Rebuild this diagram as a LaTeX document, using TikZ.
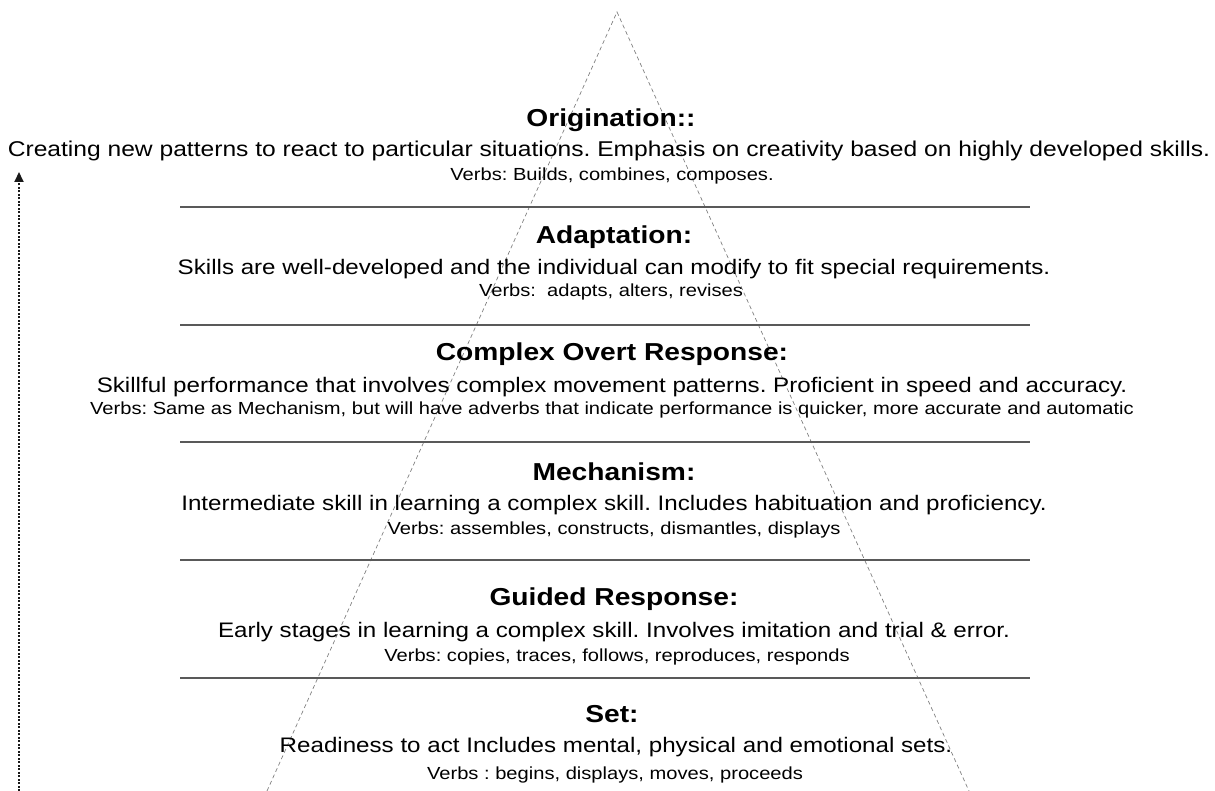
\documentclass[tikz,border=0pt]{standalone}
\usepackage{fontspec}
\setmainfont[FakeStretch=1.15]{Liberation Sans}
\usetikzlibrary{arrows.meta}
\frenchspacing
\begin{document}
\begin{tikzpicture}[x=1pt,y=-1pt,
  ttl/.style={font=\fontsize{24.5}{26}\selectfont\bfseries, text=black, inner sep=0pt, anchor=base},
  dsc/.style={font=\fontsize{21}{23}\selectfont, text=black, inner sep=0pt, anchor=base},
  vrb/.style={font=\fontsize{17.5}{19}\selectfont, text=black, inner sep=0pt, anchor=base},
  sep/.style={draw=black!65, line width=1.6pt},
  pyr/.style={draw=black!50, line width=0.7pt, dash pattern=on 4pt off 3pt},
  arr/.style={draw=black!90, line width=2pt, dash pattern=on 2pt off 1.5pt, -{Triangle[length=10pt,width=9pt]}}]
\useasboundingbox (0,0) rectangle (1215,791);
\begin{scope}
\clip (0,0) rectangle (1215,791);
\coordinate (apex) at (617,12);
\coordinate (bl) at (267,791);
\coordinate (br) at (969,791);
\draw[pyr] (bl) -- (apex) -- (br);
\end{scope}
% separator lines
\foreach \y/\n in {207/a,325/b,442/c,560/d,678/e}{
  \coordinate (L\n) at (180,\y);
  \coordinate (R\n) at (1030,\y);
  \draw[sep] (L\n) -- (R\n);
}
% arrow
\coordinate (arrB) at (19,791);
\coordinate (arrT) at (19,172);
\draw[arr] (arrB) -- (arrT);
% Origination
\node[ttl] (t1) at (611,127) {Origination::};
\node[dsc, font=\fontsize{21.4}{23}\selectfont] (d1) at (609,157) {Creating new patterns to react to particular situations. Emphasis on creativity based on highly developed skills.};
\node[vrb] (v1) at (612,181) {Verbs: Builds, combines, composes.};
% Adaptation
\node[ttl] (t2) at (614,244) {Adaptation:};
\node[dsc] (d2) at (614,275) {Skills are well-developed and the individual can modify to fit special requirements.};
\node[vrb] (v2) at (611,297) {Verbs:\ \ adapts, alters, revises};
% Complex Overt Response
\node[ttl] (t3) at (612,361) {Complex Overt Response:};
\node[dsc] (d3) at (612,392) {Skillful performance that involves complex movement patterns. Proficient in speed and accuracy.};
\node[vrb] (v3) at (612,414) {Verbs: Same as Mechanism, but will have adverbs that indicate performance is quicker, more accurate and automatic};
% Mechanism
\node[ttl] (t4) at (614,480) {Mechanism:};
\node[dsc] (d4) at (614,510) {Intermediate skill in learning a complex skill. Includes habituation and proficiency.};
\node[vrb] (v4) at (614,534) {Verbs: assembles, constructs, dismantles, displays};
% Guided Response
\node[ttl] (t5) at (614,605) {Guided Response:};
\node[dsc] (d5) at (614,637) {Early stages in learning a complex skill. Involves imitation and trial \& error.};
\node[vrb] (v5) at (617,661) {Verbs: copies, traces, follows, reproduces, responds};
% Set
\node[ttl] (t6) at (612,722) {Set:};
\node[dsc] (d6) at (616,752) {Readiness to act Includes mental, physical and emotional sets.};
\node[vrb] (v6) at (615,779) {Verbs : begins, displays, moves, proceeds};
\end{tikzpicture}
\end{document}
